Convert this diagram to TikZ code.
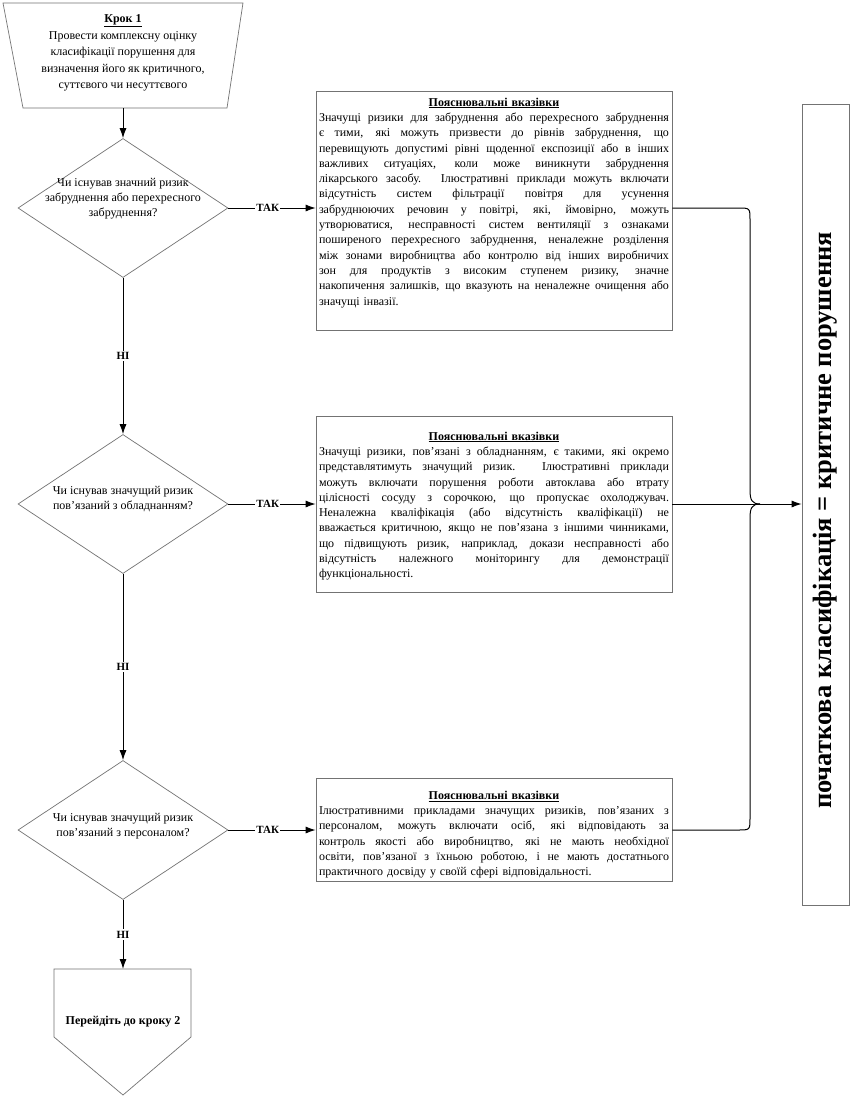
\documentclass[tikz,border=0pt]{standalone}
\usepackage{fontspec}
\setmainfont{Liberation Serif}
\usetikzlibrary{shapes.geometric,arrows.meta,calc}
\newcommand\jline[1]{\makebox[350pt][s]{\spaceskip=0pt\xspaceskip=0pt #1}\\}
\newcommand\headline[1]{\makebox[350pt]{\textbf{\underline{#1}}}\\}
\begin{document}
\begin{tikzpicture}[x=1pt,y=-1pt,
  shapeline/.style={draw=black!55, line width=0.7pt},
  conn/.style={draw=black, line width=1pt},
  arr/.style={conn, -{Latex[length=10pt,width=7pt]}},
  dec/.style={diamond, shapeline, minimum width=210pt, minimum height=139pt, inner sep=0pt},
  qtext/.style={align=center, inner sep=0pt, font=\fontsize{12}{15}\selectfont},
  nbox/.style={shapeline, rectangle, minimum width=356pt, inner sep=0pt},
  ntext/.style={text width=350pt, align=left, inner sep=0pt, font=\fontsize{12}{15.3}\selectfont, anchor=north},
  lbl/.style={fill=white, inner sep=1.5pt, font=\bfseries\fontsize{11}{13}\selectfont},
]
\useasboundingbox (0,0) rectangle (850,1106);
\fill[white] (0,0) rectangle (850,1106);

% start
\draw[shapeline] (3,3) -- (243,3) -- (227,108) -- (23,108) -- cycle;
\node[qtext, font=\fontsize{12}{16.5}\selectfont] (start) at (123,53) {\textbf{\underline{Крок 1}}\\Провести комплексну оцінку\\класифікації порушення для\\визначення його як критичного,\\суттєвого чи несуттєвого};
\coordinate (sb) at (123,108);

% decisions
\node[dec] (d1) at (123,208) {};
\node[qtext] (q1) at ($(d1.center)+(0,-9)$) {Чи існував значний ризик\\забруднення або перехресного\\забруднення?};
\node[dec] (d2) at (123,504) {};
\node[qtext] (q2) at ($(d2.center)+(0,-5)$) {Чи існував значущий ризик\\пов’язаний з обладнанням?};
\node[dec] (d3) at (123,830) {};
\node[qtext] (q3) at ($(d3.center)+(0,-4)$) {Чи існував значущий ризик\\пов’язаний з персоналом?};

% end
\coordinate (et) at (123,969);
\draw[shapeline] (54,969) -- (191,969) -- (191,1037) -- (123,1095) -- (54,1037) -- cycle;
\node[font=\bfseries\fontsize{12}{14}\selectfont] (end) at (123,1022) {Перейдіть до кроку 2};

% note boxes
\node[nbox, minimum height=239pt] (b1) at (494,210.5) {};
\node[ntext] (t1) at ($(b1.north)+(0,7)$) {\headline{Пояснювальні вказівки}%
\jline{Значущі ризики для забруднення або перехресного забруднення}%
\jline{є тими, які можуть призвести до рівнів забруднення, що}%
\jline{перевищують допустимі рівні щоденної експозиції або в інших}%
\jline{важливих ситуаціях, коли може виникнути забруднення}%
\jline{лікарського засобу. Ілюстративні приклади можуть включати}%
\jline{відсутність систем фільтрації повітря для усунення}%
\jline{забруднюючих речовин у повітрі, які, ймовірно, можуть}%
\jline{утворюватися, несправності систем вентиляції з ознаками}%
\jline{поширеного перехресного забруднення, неналежне розділення}%
\jline{між зонами виробництва або контролю від інших виробничих}%
\jline{зон для продуктів з високим ступенем ризику, значне}%
\jline{накопичення залишків, що вказують на неналежне очищення або}%
значущі інвазії.};

\node[nbox, minimum height=176pt] (b2) at (494,504) {};
\node[ntext] (t2) at ($(b2.north)+(0,16)$) {\headline{Пояснювальні вказівки}%
\jline{Значущі ризики, пов’язані з обладнанням, є такими, які окремо}%
\jline{представлятимуть значущий ризик. Ілюстративні приклади}%
\jline{можуть включати порушення роботи автоклава або втрату}%
\jline{цілісності сосуду з сорочкою, що пропускає охолоджувач.}%
\jline{Неналежна кваліфікація (або відсутність кваліфікації) не}%
\jline{вважається критичною, якщо не пов’язана з іншими чинниками,}%
\jline{що підвищують ризик, наприклад, докази несправності або}%
\jline{відсутність належного моніторингу для демонстрації}%
функціональності.};

\node[nbox, minimum height=103pt] (b3) at (494,829.5) {};
\node[ntext] (t3) at ($(b3.north)+(0,13)$) {\headline{Пояснювальні вказівки}%
\jline{Ілюстративними прикладами значущих ризиків, пов’язаних з}%
\jline{персоналом, можуть включати осіб, які відповідають за}%
\jline{контроль якості або виробництво, які не мають необхідної}%
\jline{освіти, пов’язаної з їхньою роботою, і не мають достатнього}%
практичного досвіду у своїй сфері відповідальності.};

% result box
\node[shapeline, minimum width=47pt, minimum height=801pt, inner sep=0pt] (rb) at (825.5,504.5) {};
\node[rotate=90, inner sep=0pt, font=\bfseries\fontsize{26.5}{30}\selectfont] (rt) at ($(rb.center)+(0,16)$) {початкова класифікація = критичне порушення};

% connectors
\draw[arr] (sb) -- (d1.north);
\draw[arr] (d1.south) -- node[lbl]{НІ} (d2.north);
\draw[arr] (d2.south) -- node[lbl]{НІ} (d3.north);
\draw[arr] (d3.south) -- node[lbl]{НІ} (et);
\draw[arr] (d1.east) -- node[lbl, pos=0.45]{ТАК} (d1.east -| b1.west);
\draw[arr] (d2.east) -- node[lbl, pos=0.45]{ТАК} (d2.east -| b2.west);
\draw[arr] (d3.east) -- node[lbl, pos=0.45]{ТАК} (d3.east -| b3.west);

% bracket
\coordinate (j) at (760,504);
\draw[conn] (d1.east -| b1.east) -- (738,208) .. controls (750,208) .. (750,220) -- (750,490) .. controls (750,500) and (752,504) .. (j);
\draw[conn] (d3.east -| b3.east) -- (738,830) .. controls (750,830) .. (750,818) -- (750,518) .. controls (750,508) and (752,504) .. (j);
\draw[arr] (d2.east -| b2.east) -- (d2.east -| rb.west);
\end{tikzpicture}
\end{document}
